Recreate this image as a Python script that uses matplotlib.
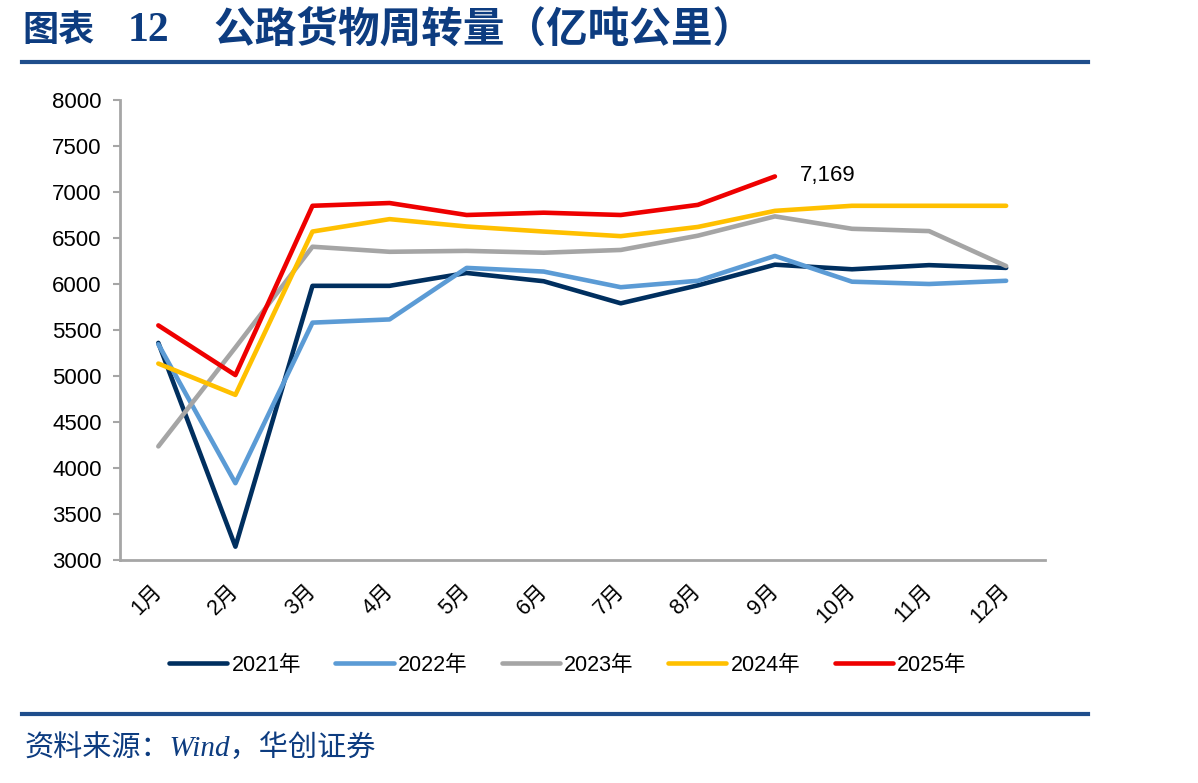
import matplotlib
matplotlib.use("Agg")
import matplotlib.pyplot as plt
from matplotlib.lines import Line2D

plt.rcParams['font.family'] = ['Liberation Sans', 'Noto Sans CJK SC']

# data (亿吨公里)
months = ['1月', '2月', '3月', '4月', '5月', '6月', '7月', '8月', '9月', '10月', '11月', '12月']
y2021 = [5360, 3145, 5980, 5980, 6120, 6030, 5790, 5985, 6210, 6160, 6205, 6175]
y2022 = [5345, 3835, 5580, 5615, 6175, 6135, 5965, 6035, 6305, 6025, 6000, 6035]
y2023 = [4235, 5310, 6405, 6350, 6360, 6340, 6370, 6525, 6735, 6600, 6575, 6195]
y2024 = [5135, 4795, 6570, 6705, 6625, 6570, 6520, 6620, 6795, 6850, 6850, 6850]
y2025 = [5550, 5010, 6850, 6880, 6750, 6775, 6750, 6860, 7169]
series_names = ['2021年', '2022年', '2023年', '2024年', '2025年']
colors = ['#002F5F', '#5B9BD5', '#A5A5A5', '#FFC000', '#EE0000']

fig = plt.figure(figsize=(11.98, 7.83), dpi=100)
ax = fig.add_axes([0.1, 0.2848, 0.772, 0.5875])

x = list(range(len(months)))
for name, vals, c in zip(series_names, [y2021, y2022, y2023, y2024, y2025], colors):
    ax.plot(x[:len(vals)], vals, color=c, lw=3.3, label=name, solid_capstyle='round')

# label last point of 2025
ax.annotate(f'{y2025[-1]:,}', xy=(len(y2025) - 1, y2025[-1]), xytext=(18, 1),
            textcoords='offset points', va='center', ha='left', fontsize=16)

ax.set_xlim(-0.5, 11.5)
ax.set_ylim(3000, 8000)
ax.set_yticks(range(3000, 8001, 500))
ax.set_xticks(x)
ax.set_xticklabels(months, rotation=45, ha='right', va='center',
                   rotation_mode='anchor', fontsize=15.5)
ax.tick_params(axis='y', labelsize=16, length=5, width=1.5, color='#A6A6A6', pad=8)
ax.tick_params(axis='x', length=0, pad=20)
for s in ['top', 'right']:
    ax.spines[s].set_visible(False)
for s in ['left', 'bottom']:
    ax.spines[s].set_color('#A6A6A6')
    ax.spines[s].set_linewidth(2)

ax.legend(loc='center', bbox_to_anchor=(0.474, 0.1507), bbox_transform=fig.transFigure,
          ncol=5, frameon=False, fontsize=15.5, handlelength=2.7, handletextpad=0.2,
          columnspacing=1.6)

# title and frame lines
navy = '#0D3C80'
fig.text(22 / 1198, 1 - 30 / 783, '图表', fontsize=26, fontweight='bold', color=navy,
         family=['Noto Sans CJK SC'], va='center', ha='left')
fig.text(128 / 1198, 1 - 31 / 783, '12', fontsize=30, fontweight='bold', color=navy,
         family=['Liberation Serif'], va='center', ha='left')
fig.text(213 / 1198, 1 - 30 / 783, '公路货物周转量（亿吨公里）', fontsize=30, fontweight='bold',
         color=navy, family=['Noto Sans CJK SC'], va='center', ha='left')
fig.add_artist(Line2D([22 / 1198, 1088 / 1198], [1 - 62 / 783] * 2, color='#1F4E8C', lw=3))
fig.add_artist(Line2D([22 / 1198, 1088 / 1198], [1 - 714 / 783] * 2, color='#1F4E8C', lw=3))

fig.text(25 / 1198, 1 - 748 / 783, '资料来源：Wind，华创证券', fontsize=21, style='italic',
         color=navy, family=['Liberation Serif', 'Noto Sans CJK SC'], va='center', ha='left')

fig.savefig('out.png', dpi=100)
